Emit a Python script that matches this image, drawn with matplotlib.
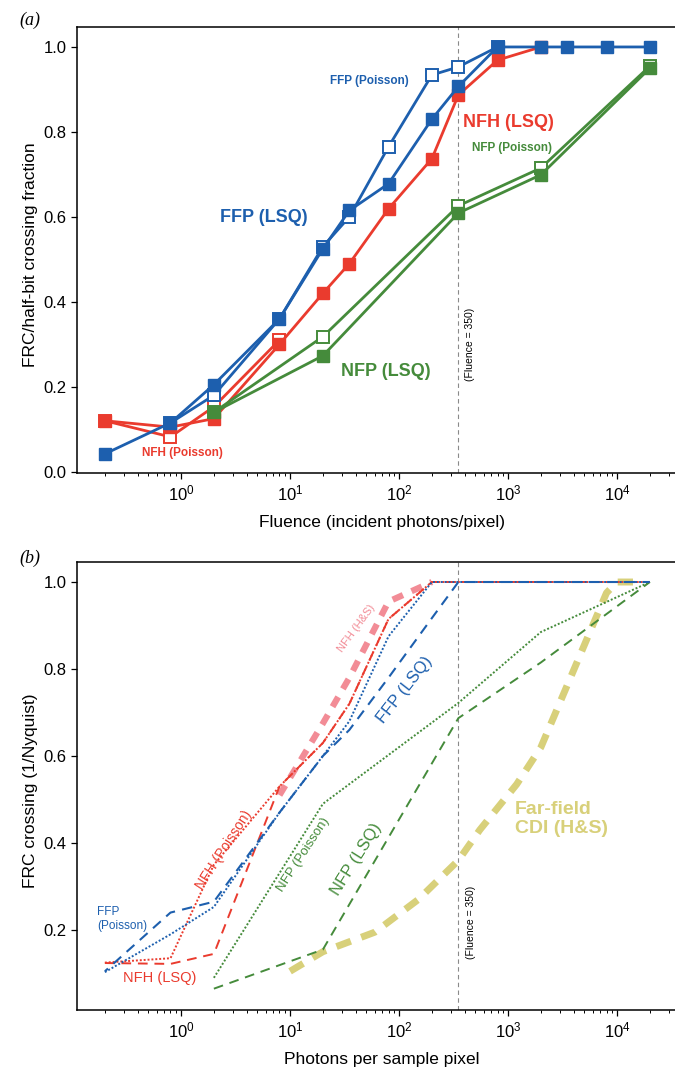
import matplotlib
matplotlib.use('Agg')
import matplotlib.pyplot as plt
from matplotlib.ticker import LogLocator, NullFormatter

plt.rcParams['font.family'] = ['Liberation Sans', 'DejaVu Sans']
plt.rcParams['mathtext.fontset'] = 'custom'
plt.rcParams['mathtext.rm'] = 'Liberation Sans'
plt.rcParams['mathtext.it'] = 'Liberation Sans:italic'

# ---- panel (a): FRC/half-bit crossing vs fluence ----
fluence = [0.2, 0.8, 2, 8, 20, 35, 80, 200, 350, 800, 2000, 3500, 8000, 20000]
ffp_lsq = [0.042, 0.115, 0.205, 0.36, 0.525, 0.615, 0.678, 0.83, 0.907, 1.0, 1.0, 1.0, 1.0, 1.0]
ffp_pois_x = [0.8, 2, 8, 20, 35, 80, 200, 350, 800]
ffp_pois = [0.115, 0.18, 0.36, 0.53, 0.60, 0.765, 0.934, 0.953, 1.0]
nfh_lsq_x = [0.2, 0.8, 2, 8, 20, 35, 80, 200, 350, 800, 2000]
nfh_lsq = [0.12, 0.105, 0.125, 0.30, 0.42, 0.49, 0.619, 0.737, 0.887, 0.969, 1.0]
nfh_pois_x = [0.2, 0.8, 2, 8]
nfh_pois = [0.12, 0.082, 0.153, 0.31]
nfp_x = [2, 20, 350, 2000, 20000]
nfp_lsq = [0.14, 0.273, 0.609, 0.699, 0.95]
nfp_pois = [0.14, 0.318, 0.626, 0.715, 0.955]

# ---- panel (b): FRC crossing vs photons per sample pixel ----
photons = [0.2, 0.8, 2, 8, 20, 35, 80, 200, 350, 20000]
ffp_pois_b = [0.103, 0.19, 0.253, 0.47, 0.60, 0.68, 0.875, 1.0, 1.0, 1.0]
ffp_lsq_b = [0.105, 0.24, 0.265, 0.47, 0.60, 0.66, 0.78, 0.917, 1.0, 1.0]
nfh_pois_b = [0.125, 0.135, 0.35, 0.53, 0.63, 0.72, 0.915, 1.0, 1.0, 1.0]
nfh_lsq_b = [0.124, 0.122, 0.145, 0.53, 0.63, 0.72, 0.915, 1.0, 1.0, 1.0]
nfh_hs_x = [8, 20, 35, 80, 200]
nfh_hs = [0.51, 0.675, 0.78, 0.955, 1.0]
nfp_x_b = [2, 20, 350, 2000, 20000]
nfp_pois_b = [0.09, 0.49, 0.722, 0.885, 1.0]
nfp_lsq_b = [0.065, 0.155, 0.687, 0.815, 1.0]
cdi_x = [10, 20, 60, 150, 350, 550, 1200, 2000, 8000, 10000, 16000]
cdi_hs = [0.105, 0.15, 0.195, 0.27, 0.36, 0.43, 0.535, 0.62, 0.975, 1.0, 1.0]

fluence_mark = 350

BLUE = '#1d5fae'
RED = '#ea3b2e'
GREEN = '#458b3b'
PINK = '#f28c96'
YELLOW = '#d8d07a'

W, H = 675, 1068
fig = plt.figure(figsize=(W / 100, H / 100), dpi=100)

ax_a = fig.add_axes([77 / W, 1 - 473 / H, 1 - 77 / W, 446 / H])
ax_b = fig.add_axes([77 / W, 1 - 1010 / H, 1 - 77 / W, 448 / H])

for ax in (ax_a, ax_b):
    ax.set_xscale('log')
    ax.set_xlim(0.111, 3.4e4)
    ax.spines['right'].set_visible(False)
    for s in ('left', 'bottom', 'top'):
        ax.spines[s].set_linewidth(1.1)
    ax.xaxis.set_major_locator(LogLocator(base=10, numticks=12))
    ax.xaxis.set_minor_locator(LogLocator(base=10, subs=range(2, 10), numticks=12))
    ax.xaxis.set_minor_formatter(NullFormatter())
    ax.tick_params(which='major', direction='out', length=4, width=0.9, labelsize=12, top=False, right=False)
    ax.tick_params(which='minor', direction='out', length=2.5, width=0.7, top=False, right=False)
    ax.set_yticks([0.0, 0.2, 0.4, 0.6, 0.8, 1.0])
    ax.axvline(fluence_mark, color='#8a8a8a', lw=0.8, ls=(0, (4, 3)), zorder=1)

# panel (a)
ax_a.set_ylim(-0.003, 1.047)
ms = 9
ax_a.plot(nfh_pois_x, nfh_pois, color=RED, lw=2, marker='s', ms=ms, mfc='white', mew=1.4, zorder=3)
ax_a.plot(nfh_lsq_x, nfh_lsq, color=RED, lw=2, marker='s', ms=ms, zorder=3)
ax_a.plot(nfp_x, nfp_pois, color=GREEN, lw=2, marker='s', ms=ms, mfc='white', mew=1.4, zorder=4)
ax_a.plot(nfp_x, nfp_lsq, color=GREEN, lw=2, marker='s', ms=ms, zorder=4)
ax_a.plot(ffp_pois_x, ffp_pois, color=BLUE, lw=2, marker='s', ms=ms, mfc='white', mew=1.4, zorder=5)
ax_a.plot(fluence, ffp_lsq, color=BLUE, lw=2, marker='s', ms=ms, zorder=5)

ax_a.text(53, 0.92, 'FFP (Poisson)', color=BLUE, fontsize=8.5, fontweight='bold', ha='center', va='center')
ax_a.text(1000, 0.821, 'NFH (LSQ)', color=RED, fontsize=13, fontweight='bold', ha='center', va='center')
ax_a.text(1090, 0.762, 'NFP (Poisson)', color=GREEN, fontsize=8.5, fontweight='bold', ha='center', va='center')
ax_a.text(5.8, 0.598, 'FFP (LSQ)', color=BLUE, fontsize=13, fontweight='bold', ha='center', va='center')
ax_a.text(76, 0.235, 'NFP (LSQ)', color=GREEN, fontsize=13, fontweight='bold', ha='center', va='center')
ax_a.text(1.02, 0.045, 'NFH (Poisson)', color=RED, fontsize=8.5, fontweight='bold', ha='center', va='center')
ax_a.text(447, 0.30, '(Fluence = 350)', rotation=90, fontsize=7.5, ha='center', va='center')

ax_a.set_ylabel('FRC/half-bit crossing fraction', fontsize=12.5)
ax_a.yaxis.set_label_coords(-0.065, 0.49)
ax_a.set_xlabel('Fluence (incident photons/pixel)', fontsize=12.5)
ax_a.xaxis.set_label_coords(0.51, -0.094)

# panel (b)
ax_b.set_ylim(0.016, 1.046)
ax_b.plot(cdi_x, cdi_hs, color=YELLOW, lw=5, ls=(0, (2.2, 1.6)), solid_capstyle='butt', zorder=2)
ax_b.plot(nfh_hs_x, nfh_hs, color=PINK, lw=4.5, ls=(0, (1.8, 1.5)), zorder=2)
ax_b.plot(nfp_x_b, nfp_pois_b, color=GREEN, lw=1.4, ls=(0, (1, 1)), zorder=3)
ax_b.plot(nfp_x_b, nfp_lsq_b, color=GREEN, lw=1.4, ls=(0, (5, 3.5)), zorder=3)
ax_b.plot(photons, nfh_pois_b, color=RED, lw=1.4, ls=(0, (1, 1)), zorder=3)
ax_b.plot(photons, nfh_lsq_b, color=RED, lw=1.4, ls=(0, (5, 3.5)), zorder=3)
ax_b.plot(photons, ffp_pois_b, color=BLUE, lw=1.4, ls=(0, (1, 1)), zorder=4)
ax_b.plot(photons, ffp_lsq_b, color=BLUE, lw=1.5, ls=(3, (5, 3.5)), zorder=4)

ax_b.text(0.17, 0.225, 'FFP\n(Poisson)', color=BLUE, fontsize=8.5, ha='left', va='center', linespacing=1.2)
ax_b.text(0.64, 0.09, 'NFH (LSQ)', color=RED, fontsize=10.5, ha='center', va='center')
ax_b.text(2.5, 0.384, 'NFH (Poisson)', color=RED, fontsize=10, rotation=57, ha='center', va='center')
ax_b.text(13.2, 0.372, 'NFP (Poisson)', color=GREEN, fontsize=9.5, rotation=57, ha='center', va='center')
ax_b.text(41, 0.363, 'NFP (LSQ)', color=GREEN, fontsize=12, rotation=58, ha='center', va='center')
ax_b.text(113, 0.752, 'FFP (LSQ)', color=BLUE, fontsize=12, rotation=52, ha='center', va='center')
ax_b.text(41, 0.894, 'NFH (H&S)', color=PINK, fontsize=8, rotation=54, ha='center', va='center')
ax_b.text(1160, 0.455, 'Far-field\nCDI (H&S)', color=YELLOW, fontsize=14, fontweight='bold',
          ha='left', va='center', linespacing=1.15)
ax_b.text(457, 0.218, '(Fluence = 350)', rotation=90, fontsize=7.5, ha='center', va='center')

ax_b.set_ylabel('FRC crossing (1/Nyquist)', fontsize=12.5)
ax_b.yaxis.set_label_coords(-0.065, 0.49)
ax_b.set_xlabel('Photons per sample pixel', fontsize=12.5)
ax_b.xaxis.set_label_coords(0.51, -0.094)

fig.text(30 / W, 1 - 20 / H, '(a)', family='Liberation Serif', style='italic', fontsize=13, ha='center', va='center')
fig.text(30 / W, 1 - 558 / H, '(b)', family='Liberation Serif', style='italic', fontsize=13, ha='center', va='center')

fig.savefig('out.png', dpi=100)
